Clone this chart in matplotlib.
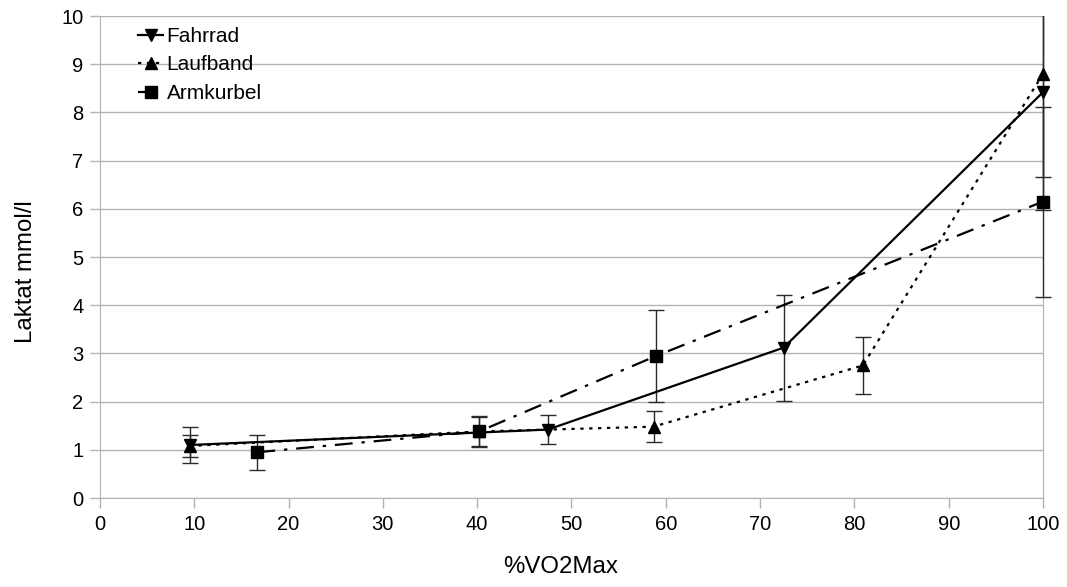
import matplotlib
matplotlib.use("Agg")
import matplotlib.pyplot as plt
from matplotlib.transforms import Bbox, TransformedBbox

plt.rcParams['font.family'] = ['Liberation Sans', 'DejaVu Sans']

fahrrad_x = [9.5, 47.5, 72.5, 100]
fahrrad_y = [1.10, 1.42, 3.12, 8.42]
fahrrad_err = [0.38, 0.30, 1.10, 1.75]

laufband_x = [9.5, 40.2, 58.7, 80.9, 100]
laufband_y = [1.08, 1.38, 1.48, 2.75, 8.80]
laufband_err = [0.23, 0.30, 0.32, 0.60, 2.83]

armkurbel_x = [16.7, 40.2, 59.0, 100]
armkurbel_y = [0.95, 1.38, 2.95, 6.15]
armkurbel_err = [0.36, 0.32, 0.96, 1.97]

x_ticks = list(range(0, 101, 10))
y_ticks = list(range(0, 11))

fig = plt.figure(figsize=(10.67, 5.87), dpi=100)
ax = fig.add_axes([0.0937, 0.1516, 0.8838, 0.8211])

grid_c = '#b3b3b3'
err_c = '#2a2a2a'

clip = TransformedBbox(Bbox([[-0.05, 0.0], [1.05, 1.0]]), ax.transAxes)

series = [
    ("Fahrrad", fahrrad_x, fahrrad_y, fahrrad_err, 'v', '-'),
    ("Laufband", laufband_x, laufband_y, laufband_err, '^', (0, (1.5, 2.5))),
    ("Armkurbel", armkurbel_x, armkurbel_y, armkurbel_err, 's', (0, (8, 4, 1.5, 4))),
]
for name, xs, ys, es, m, ls in series:
    cont = ax.errorbar(xs, ys, yerr=es, fmt='none', ecolor=err_c, elinewidth=1.0,
                       capsize=6, capthick=1.0, zorder=2.7)
    for art in list(cont.lines[1]) + list(cont.lines[2]):
        art.set_clip_box(clip)
    line, = ax.plot(xs, ys, color='black', marker=m, markersize=9,
                    linewidth=1.6, linestyle=ls, label=name, zorder=3, clip_on=False)

ax.set_xlim(0, 100)
ax.set_ylim(0, 10)
ax.set_xticks(x_ticks)
ax.set_yticks(y_ticks)
ax.yaxis.grid(True, color=grid_c, linewidth=1.0)
ax.set_axisbelow(True)
ax.spines['top'].set_visible(False)
for s in ['right', 'left', 'bottom']:
    ax.spines[s].set_color(grid_c)
    ax.spines[s].set_zorder(1.5)
ax.tick_params(axis='both', direction='out', color=grid_c, length=7, width=1,
               labelsize=14.5, labelcolor='black', pad=5)
ax.set_xlabel('%VO2Max', fontsize=17.3, labelpad=16, x=0.488)
ax.set_ylabel('Laktat mmol/l', fontsize=17.3, labelpad=17, y=0.469)

leg = ax.legend(loc='upper left', bbox_to_anchor=(0.0275, 1.003), frameon=False,
                fontsize=15, handlelength=1.2, handletextpad=0.15, labelspacing=0.45,
                borderaxespad=0.2)

fig.savefig('out.png', dpi=100)
